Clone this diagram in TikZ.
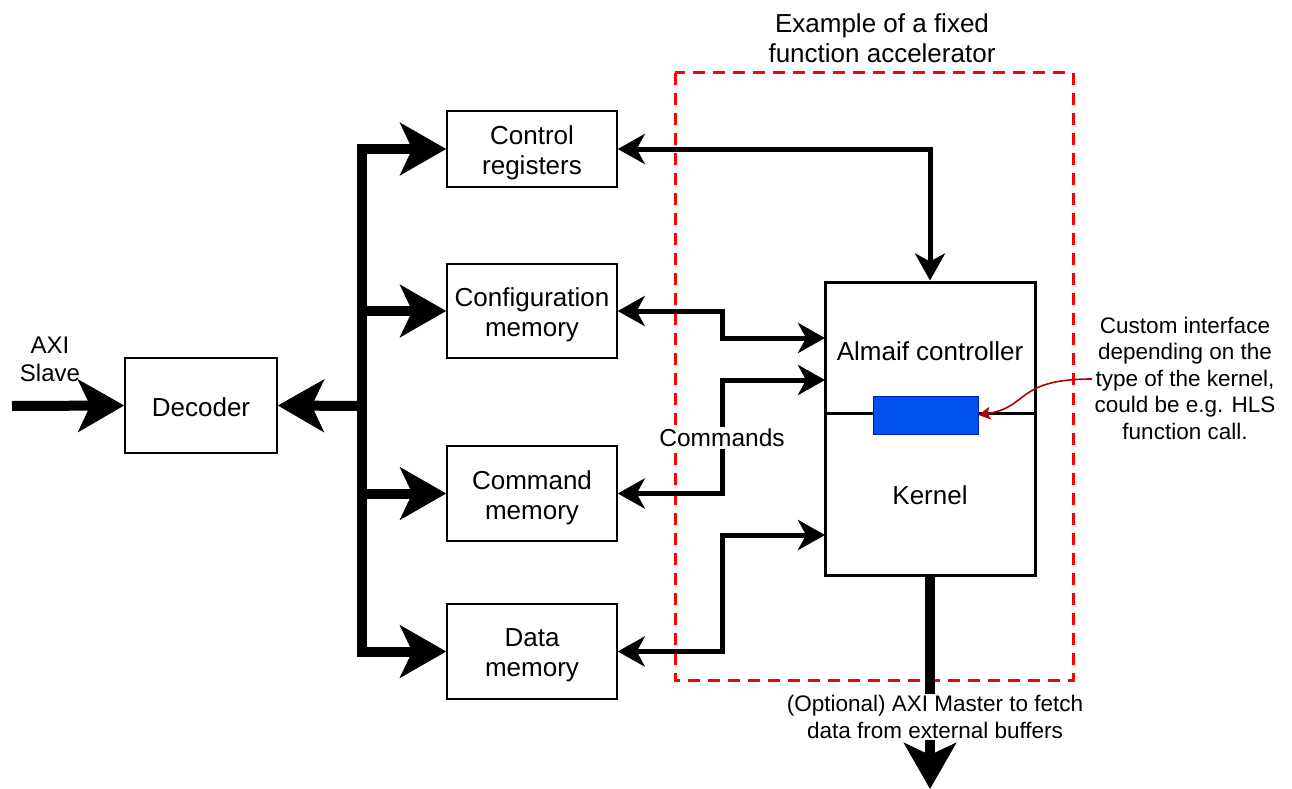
\documentclass[tikz,border=0pt]{standalone}
\usepackage{fontspec}
\setmainfont{Liberation Sans}
\usetikzlibrary{arrows.meta}
\definecolor{dred}{HTML}{B20000}
\definecolor{dblue}{HTML}{0050EF}
\definecolor{dblueb}{HTML}{001DBC}
\tikzset{
  box/.style={draw, line width=1.5pt, inner sep=0pt},
  boxtext/.style={font=\fontsize{26}{30}\selectfont, align=center, inner sep=0pt},
  bighead/.tip={Stealth[length=46pt, width=52pt, inset=12pt]},
  smallhead/.tip={Stealth[length=27pt, width=30pt, inset=8pt]},
  bus/.style={line width=10pt},
  conn/.style={line width=5pt},
  lbl/.style={font=\fontsize{26}{30}\selectfont, align=center},
  smalllbl/.style={font=\fontsize{22.5}{26.5}\selectfont, align=center},
}
\begin{document}
\begin{tikzpicture}[x=1pt, y=-1pt]
\useasboundingbox (0,0) rectangle (1292,789);
% red dashed region
\draw[red, line width=3pt, dash pattern=on 12pt off 8pt] (675,73) rectangle (1073,680);
\node[lbl] (title) at (882,38) {Example of a fixed\\function accelerator};

% boxes
\node[box, minimum width=152pt, minimum height=95pt] (dec) at (201,405.5) {};
\node[box, minimum width=170pt, minimum height=76pt] (ctrl) at (532,149) {};
\node[box, minimum width=170pt, minimum height=94pt] (cfg) at (532,311) {};
\node[box, minimum width=170pt, minimum height=95pt] (cmd) at (532,493.5) {};
\node[box, minimum width=170pt, minimum height=95pt] (data) at (532,651.5) {};
\node[boxtext] (dect) at ([yshift=-2pt]dec.center) {Decoder};
\node[boxtext] (ctrlt) at ([yshift=-4pt]ctrl.center) {Control\\registers};
\node[boxtext] (cfgt) at ([yshift=-4pt]cfg.center) {Configuration\\memory};
\node[boxtext] (cmdt) at ([yshift=-4pt]cmd.center) {Command\\memory};
\node[boxtext] (datat) at ([yshift=-4pt]data.center) {Data\\memory};

% kernel
\node[draw, line width=3pt, minimum width=210pt, minimum height=293pt, inner sep=0pt] (kern) at (930,428.5) {};
\coordinate (dl) at (825,413);
\coordinate (dr) at (1035,413);
\draw[line width=3pt] (dl) -- (dr);
\node[draw=dblueb, fill=dblue, line width=1pt, minimum width=105pt, minimum height=38pt, inner sep=0pt] (blue) at (925.5,415) {};
\node[lbl] (almaif) at (930,351) {Almaif controller};
\node[lbl] (kernlbl) at (930,495) {Kernel};

% input
\coordinate (axin) at (12,406);
\node[font=\fontsize{24}{28}\selectfont, align=center] (axi) at (50,359) {AXI\\Slave};
\draw[bus, -bighead] (axin) -- (dec.west);

% bus
\coordinate (b1) at (362,149);
\coordinate (b2) at (362,311);
\coordinate (bm) at (362,406);
\coordinate (b3) at (362,493.5);
\coordinate (b4) at (362,651.5);
\draw[bus, bighead-bighead] (ctrl.west) -- (b1) -- (b4) -- (data.west);
\draw[bus, -bighead] (b2) -- (cfg.west);
\draw[bus, -bighead] (b3) -- (cmd.west);
\draw[bus, -bighead] (bm) -- (dec.east);

% connectors to kernel
\coordinate (k1) at (825,338);
\coordinate (k2) at (825,380);
\coordinate (k3) at (825,535);
\coordinate (j1) at (722,311);
\coordinate (j2) at (722,380);
\coordinate (j3) at (722,651.5);
\draw[conn, smallhead-smallhead] (ctrl.east) -| (kern.north);
\draw[conn, smallhead-smallhead] (cfg.east) -- (j1) |- (k1);
\draw[conn, smallhead-smallhead] (cmd.east) -| (j2) -- (k2);
\draw[conn, smallhead-smallhead] (data.east) -- (j3) |- (k3);
\node[fill=white, inner sep=2pt, font=\fontsize{24.5}{28}\selectfont] (cmds) at (722,438) {Commands};

% bottom AXI master
\coordinate (bot) at (930,789);
\draw[bus, -bighead] (kern.south) -- (bot);
\node[smalllbl, fill=white, inner sep=1pt] (master) at (935,717) {(Optional) AXI Master to fetch\\data from external buffers};

% custom interface note
\node[smalllbl] (note) at (1185,378) {Custom interface\\depending on the\\type of the kernel,\\could be e.g. HLS\\function call.};
\coordinate (nstart) at (1092,379);
\draw[dred, line width=1.6pt, -{Stealth[length=12pt, width=13pt, inset=3pt]}] (nstart) .. controls (1015,379) and (1030,407) .. (blue.east);
\end{tikzpicture}
\end{document}
